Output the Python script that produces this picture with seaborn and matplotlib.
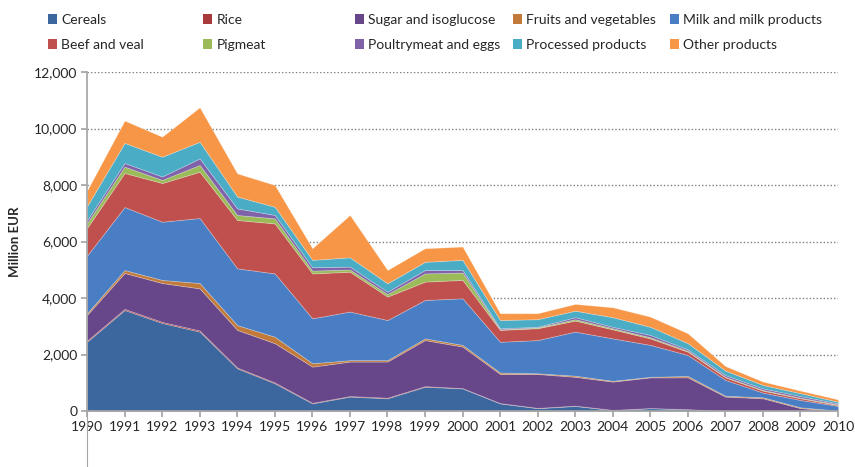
import numpy as np
import matplotlib
matplotlib.use("Agg")
import matplotlib.pyplot as plt
from matplotlib.patches import Patch
from matplotlib.ticker import FuncFormatter, MultipleLocator
import seaborn as sns

years = list(range(1990, 2011))

# million EUR
cereals = [2450, 3575, 3115, 2810, 1510, 980, 270, 510, 450, 860, 800,
           270, 100, 180, 30, 100, 60, 0, 0, 0, 0]
rice = [40, 40, 40, 40, 30, 30, 20, 20, 20, 20, 10,
        10, 10, 10, 10, 5, 5, 5, 5, 0, 0]
sugar = [910, 1270, 1375, 1490, 1330, 1390, 1280, 1220, 1280, 1630, 1470,
         1030, 1200, 1020, 1000, 1085, 1125, 505, 445, 100, 10]
fruits = [60, 105, 110, 190, 170, 230, 120, 50, 50, 60, 60,
          50, 25, 40, 30, 20, 50, 30, 35, 30, 5]
milk = [2040, 2230, 2060, 2300, 2010, 2240, 1590, 1720, 1420, 1360, 1650,
        1090, 1175, 1560, 1500, 1130, 740, 560, 165, 260, 165]
beef = [980, 1205, 1370, 1640, 1710, 1770, 1590, 1410, 830, 650, 650,
        420, 420, 390, 320, 230, 120, 90, 70, 60, 30]
pigmeat = [170, 225, 110, 240, 180, 180, 100, 80, 90, 290, 260,
           20, 30, 50, 40, 40, 30, 20, 25, 20, 25]
poultry = [100, 130, 120, 230, 230, 120, 120, 100, 80, 120, 90,
           40, 20, 70, 50, 80, 50, 60, 55, 60, 35]
processed = [500, 710, 700, 590, 420, 290, 260, 330, 300, 290, 360,
             290, 270, 230, 340, 290, 220, 160, 120, 100, 60]
other = [550, 790, 710, 1220, 820, 770, 410, 1500, 470, 480, 470,
         240, 210, 240, 350, 360, 350, 160, 120, 90, 80]

labels = ["Cereals", "Rice", "Sugar and isoglucose", "Fruits and vegetables",
          "Milk and milk products", "Beef and veal", "Pigmeat",
          "Poultrymeat and eggs", "Processed products", "Other products"]
series = [cereals, rice, sugar, fruits, milk, beef, pigmeat, poultry,
          processed, other]
colors = ["#3C679E", "#A83A3C", "#67468A", "#C27A3A", "#4A7EC4",
          "#C0504D", "#9BBB59", "#7F62A8", "#4BACC6", "#F79646"]

sns.set_theme(style="white")
plt.rcParams['font.family'] = ['Lato', 'DejaVu Sans']

fig = plt.figure(figsize=(8.55, 4.67), dpi=100)
ax = fig.add_axes([87 / 855, 1 - 411 / 467, (838 - 87) / 855, (411 - 72) / 467])

ax.stackplot(years, *series, colors=colors, linewidth=0.6,
             edgecolor=(1, 1, 1, 0.25))

ax.set_xlim(1990, 2010)
ax.set_ylim(0, 12000)
ax.yaxis.set_major_locator(MultipleLocator(2000))
ax.yaxis.set_major_formatter(FuncFormatter(lambda v, p: f"{int(v):,}"))
ax.set_xticks(years)
ax.set_xticklabels([str(y) for y in years])

ax.grid(axis="y", linestyle=(0, (1, 1.5)), color="#7f7f7f", linewidth=1)
ax.set_axisbelow(True)
for s in ["top", "right"]:
    ax.spines[s].set_visible(False)
ax.spines["left"].set_color("#a6a6a6")
ax.spines["bottom"].set_color("#a6a6a6")
ax.tick_params(axis="both", which="major", direction="out", length=4,
               color="#a6a6a6", labelsize=10, labelcolor="#262626",
               left=True, bottom=True, pad=3)
ax.set_ylabel("Million EUR", fontsize=9.5, fontweight="bold",
              color="#262626", labelpad=9)

# axis line running on below the plot, as in the original
fig.add_artist(plt.Line2D([87 / 855, 87 / 855], [0, 1 - 411 / 467],
                          color="#a6a6a6", linewidth=0.8))

# legend: two rows, five evenly spaced columns
col_x = [42, 197, 349, 507, 664]
for i, x in enumerate(col_x):
    idx = [i, i + 5]
    handles = [Patch(facecolor=colors[j], edgecolor="none") for j in idx]
    fig.legend(handles, [labels[j] for j in idx], loc="upper left",
               bbox_to_anchor=(x / 855, 1 - 8 / 467), frameon=False,
               fontsize=10, handlelength=0.7, handleheight=0.7,
               handletextpad=0.3, labelspacing=0.95, borderaxespad=0,
               labelcolor="#262626")

fig.savefig("out.png", dpi=100)
